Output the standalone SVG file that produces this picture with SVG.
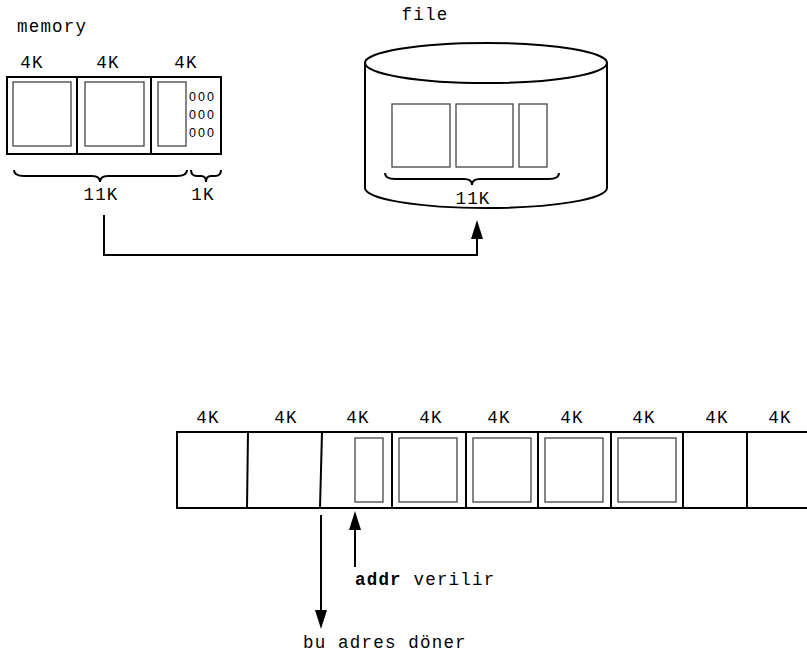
<svg xmlns="http://www.w3.org/2000/svg" width="807" height="662" viewBox="0 0 807 662">
<style>
.t{font-family:"Liberation Mono","Courier New",monospace;font-size:17.5px;letter-spacing:1.2px;fill:#000}
.m{text-anchor:middle}
.z{font-family:"Liberation Sans",Arial,sans-serif;font-size:12.5px;letter-spacing:2px;fill:#000}
.box{fill:#fff;stroke:#000;stroke-width:2}
.in{fill:#fff;stroke:#444;stroke-width:1.3}
.ln{fill:none;stroke:#000;stroke-width:2}
.br{fill:none;stroke:#000;stroke-width:2}
.ah{fill:#000;stroke:none}
</style>
<rect width="807" height="662" fill="#fff"/>

<g id="memory">
<text class="t" x="17" y="32">memory</text>
<text class="t m" x="32" y="68">4K</text>
<text class="t m" x="108" y="68">4K</text>
<text class="t m" x="186" y="68">4K</text>
<rect class="box" x="7" y="77" width="214" height="77"/>
<line class="ln" x1="77" y1="77" x2="77" y2="154"/>
<line class="ln" x1="151" y1="77" x2="151" y2="154"/>
<rect class="in" x="13" y="82" width="58" height="64"/>
<rect class="in" x="85" y="82" width="59" height="64"/>
<rect class="in" x="158" y="82" width="28" height="64"/>
<text class="z" x="189" y="101">000</text>
<text class="z" x="189" y="119">000</text>
<text class="z" x="189" y="137">000</text>
<path class="br" d="M14,170 Q14,176 24,176 L92,176 Q100,176 100,182 Q100,176 108,176 L177,176 Q187,176 187,170"/>
<path class="br" d="M191,170 Q191,176 197,176 L201,176 Q206,176 206,182 Q206,176 211,176 L215,176 Q221,176 221,170"/>
<text class="t m" x="101" y="200">11K</text>
<text class="t m" x="203" y="200">1K</text>
</g>

<g id="file">
<text class="t m" x="425" y="20">file</text>
<path class="box" d="M365,63 L365,188 A121,20 0 0 0 607,188 L607,63"/>
<ellipse class="box" cx="486" cy="63" rx="121" ry="20"/>
<rect class="in" x="392" y="104" width="58" height="63"/>
<rect class="in" x="456" y="104" width="57" height="63"/>
<rect class="in" x="519" y="104" width="28" height="63"/>
<path class="br" d="M385,173 Q385,179 395,179 L464,179 Q472,179 472,185 Q472,179 480,179 L549,179 Q559,179 559,173"/>
<text class="t m" x="473" y="204">11K</text>
</g>

<g id="array">
<text class="t m" x="208" y="423">4K</text>
<text class="t m" x="286" y="423">4K</text>
<text class="t m" x="358" y="423">4K</text>
<text class="t m" x="431" y="423">4K</text>
<text class="t m" x="499" y="423">4K</text>
<text class="t m" x="572" y="423">4K</text>
<text class="t m" x="644" y="423">4K</text>
<text class="t m" x="717" y="423">4K</text>
<text class="t m" x="780" y="423">4K</text>
<path class="ln" d="M808,432 L177,432 L177,508 L808,508"/>
<line class="ln" x1="248" y1="432" x2="247" y2="508"/>
<line class="ln" x1="322" y1="432" x2="320" y2="508"/>
<line class="ln" x1="392" y1="432" x2="392" y2="508"/>
<line class="ln" x1="466" y1="432" x2="466" y2="508"/>
<line class="ln" x1="538" y1="432" x2="538" y2="508"/>
<line class="ln" x1="611" y1="432" x2="611" y2="508"/>
<line class="ln" x1="683" y1="432" x2="683" y2="508"/>
<line class="ln" x1="747" y1="432" x2="747" y2="508"/>
<rect class="in" x="355" y="438" width="28" height="64"/>
<rect class="in" x="399" y="438" width="58" height="64"/>
<rect class="in" x="473" y="438" width="58" height="64"/>
<rect class="in" x="545" y="438" width="58" height="64"/>
<rect class="in" x="618" y="438" width="58" height="64"/>
</g>

<g id="labels">
<text class="t" x="355" y="585"><tspan font-weight="bold">addr</tspan> verilir</text>
<text class="t" x="303" y="648">bu adres döner</text>
</g>

<g id="connectors">
<polyline class="ln" points="104,215 104,255 477,255 477,236"/>
<polygon class="ah" points="477,220 471,239 483,239"/>
<line class="ln" x1="321" y1="515" x2="321" y2="612"/>
<polygon class="ah" points="321,629 315,610 327,610"/>
<line class="ln" x1="355" y1="567" x2="355" y2="528"/>
<polygon class="ah" points="355,511 349,530 361,530"/>
</g>
</svg>
